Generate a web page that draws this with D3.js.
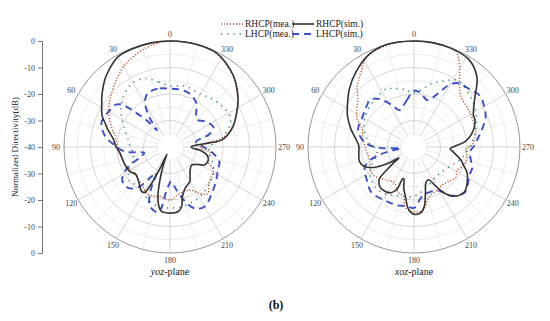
<!DOCTYPE html>
<html>
<head>
<meta charset="utf-8">
<script src="https://cdn.jsdelivr.net/npm/d3@7"></script>
<style>
  body { margin: 0; background: #fff; }
  svg { display: block; font-family: "Liberation Serif", "Times New Roman", serif; }
</style>
</head>
<body>
<div id="chart"></div>
<script>
// angle (deg, counter-clockwise from top) , normalized directivity (dB)
const yozRhcpSim = [[0,0],[10,-0.1],[20,-0.3],[30,-0.7],[38,-2.8],[44,-4.6],[53,-7.8],[57,-9.3],[65,-11.7],[70,-14],[74,-15.5],[82,-18.4],[89,-19.5],[97,-21],[112,-21.7],[122,-22.3],[128,-23.5],[136,-22.7],[143,-21.2],[148,-20],[151,-20.5],[153,-24],[155,-31],[157,-37],[159,-34],[162,-29],[165,-23],[168,-18.5],[172,-15.6],[178,-15.1],[187,-15.4],[191,-17],[194,-20.7],[200,-23.4],[210,-25],[219,-28],[230,-29.4],[238,-27.5],[243,-25.2],[251,-24.7],[258,-25.8],[264,-28.6],[267,-31.5],[271,-32],[274,-30],[276,-25],[278,-20],[288,-15],[297,-11.8],[304,-9],[311,-6.5],[318,-4.1],[326,-2],[334,-0.4],[345,0],[352,0]];
const yozRhcpMea = [[0,0],[7,-0.5],[15,-1.8],[22,-3.2],[29,-4.7],[35,-6.5],[41,-8.3],[52,-11.2],[61,-13.5],[71,-16.7],[79,-18.9],[86,-19.8],[95,-20.5],[103,-21.3],[114,-22],[125,-23],[135,-23],[145,-22],[153,-20.5],[160,-20.5],[169,-20.9],[180,-20],[192,-22.1],[205,-22.1],[212,-19.5],[219,-17.3],[224,-19],[230,-20.4],[242,-21.5],[248,-24.3],[255,-25],[262,-24.5],[268,-28.5],[273,-28],[277,-24.8],[280,-19.6],[287,-15.7],[296,-12],[305,-8.8],[318,-4.3],[334,-0.6],[345,-0.1],[352,0]];
const yozLhcpSim = [[0,-18],[12,-17.5],[22,-18],[27,-19.5],[31,-22],[35,-27],[38,-32],[41,-27],[45,-21.5],[48,-16.5],[52,-14],[60,-13.3],[70,-12.5],[80,-15],[88,-19],[96,-23],[103,-30],[109,-28],[116,-22],[125,-18],[135,-18],[142,-21],[148,-27],[152,-29],[156,-22],[161,-16.5],[170,-15],[176,-24],[182,-27],[188,-24],[195,-19],[202,-15],[210,-14],[220,-16],[234,-18.5],[245,-20],[253,-20.5],[262,-23.7],[272,-28],[281,-30],[288,-24.4],[294,-22],[306,-23.5],[315,-25.5],[322,-24],[328,-21],[334,-19.5],[341,-18.4],[350,-18]];
const yozLhcpMea = [[0,-17],[10,-15],[20,-12.5],[30,-12],[40,-13.5],[50,-16],[60,-19],[70,-22],[80,-24],[90,-25],[100,-26],[110,-25],[120,-22],[130,-20],[140,-21],[150,-20],[160,-18],[170,-17],[180,-17],[190,-17],[200,-17.5],[210,-18],[220,-19],[230,-20],[240,-21],[250,-23],[260,-25],[270,-25],[280,-20],[290,-16],[297,-14.5],[310,-15.2],[320,-16],[330,-17],[346,-16.3]];

const xozRhcpSim = [[0,0],[15,0],[27,-1.4],[38,-4.3],[48,-7.2],[56,-9.8],[65,-12.3],[74,-15.2],[82,-17.8],[89,-19.2],[97,-19],[105,-18.7],[111,-19.8],[117,-23],[122,-28],[126,-33],[128,-30],[130,-26.9],[133,-22],[138,-20.5],[143,-20],[153,-20.6],[158,-22.8],[160,-27],[162,-27.5],[166,-24],[170,-21.2],[175,-16.4],[180,-14.6],[186,-15.1],[190,-17.4],[194,-22.2],[199,-26],[204,-26.5],[209,-23.2],[213,-19.4],[219,-16.1],[228,-14.5],[236,-15.8],[244,-17.7],[249,-19.8],[255,-21.8],[262,-24.8],[267,-26.3],[272,-24],[276,-20.6],[283,-17.6],[294,-14.8],[298,-14.6],[308,-11],[318,-4.5],[328,-1],[340,-0.2],[350,0]];
const xozRhcpMea = [[0,0],[10,-0.1],[20,-0.6],[26,-1.1],[31,-3],[34,-4.8],[38,-6.6],[43,-8.6],[50,-12.3],[58,-14.5],[64,-16.2],[69,-18.8],[80,-20.5],[90,-21.5],[104,-22.5],[123,-21.2],[139,-23.6],[151,-24.6],[160,-22],[168,-20.9],[172,-16.9],[180,-15.5],[188,-16],[197,-20.4],[207,-21.5],[217,-22.1],[226,-21.5],[234,-20.5],[241,-21.5],[247,-20.5],[253,-19.6],[260,-19.6],[267,-20.5],[272,-18],[283,-16.1],[295,-15.6],[306,-15],[317,-14],[322,-12],[326,-9.3],[330,-5.5],[334,-2],[337,-0.5],[345,-0.2],[352,0]];
const xozLhcpSim = [[0,-18.7],[8,-21.9],[15,-24],[22,-25],[28,-22],[36,-17.6],[43,-15.7],[50,-16.5],[60,-17.5],[72,-17.8],[78,-19],[86,-22],[92,-28],[96,-35],[99,-32],[104,-25],[112,-20],[127,-18],[137,-16.5],[153,-17.1],[164,-17.1],[172,-17.5],[180,-17],[189,-21],[200,-22],[210,-21],[217,-17],[228,-14.3],[235,-15.3],[244,-16.6],[250,-16.6],[256,-17.8],[265,-18.8],[272,-17],[278,-15.6],[283,-14],[292,-10.9],[300,-9.4],[308,-8.5],[316,-9.7],[326,-10.9],[331,-13.5],[336,-18],[344,-21.6],[353,-19.5]];
const xozLhcpMea = [[0,-19.5],[10,-18],[20,-16.5],[26,-15.7],[35,-16.5],[43,-17],[55,-18],[64,-19],[75,-21],[85,-23],[95,-26],[105,-25],[115,-22],[125,-20],[135,-19],[145,-19],[155,-20],[165,-21],[175,-21],[185,-22],[195,-24],[205,-25],[215,-26],[225,-26],[235,-25.5],[245,-24],[255,-22],[265,-20],[275,-18],[285,-16],[295,-14],[305,-12.5],[315,-11],[327,-10],[335,-12.5],[344,-15],[352,-18]];

const angleTicks = d3.range(0, 360, 30);
const radialTicks = [0, -10, -20, -30, -40];
const seriesNames = ["RHCP(mea.)", "RHCP(sim.)", "LHCP(mea.)", "LHCP(sim.)"];
const planeNames = ["yoz", "xoz"];

const width = 550, height = 321;
const cy = 147, R = 106;

// line styles per series, same order as seriesNames
const styles = [
  { color: "#b5532e", width: 1.4, dash: "1.2,1.8" },
  { color: "#333333", width: 1.6, dash: null },
  { color: "#2c8c7c", width: 1.6, dash: "1.2,5" },
  { color: "#3b4fc8", width: 1.9, dash: "7,5" }
];

const svg = d3.select("#chart")
  .append("svg")
  .attr("width", width)
  .attr("height", height);

svg.append("rect").attr("width", width).attr("height", height).attr("fill", "#fff");

const rScale = d3.scaleLinear().domain([-40, 0]).range([0, R]);

const radialLine = d3.lineRadial()
  .angle(d => -d[0] * Math.PI / 180)
  .radius(d => rScale(d[1]))
  .curve(d3.curveCatmullRomClosed.alpha(0.5));

// draw one polar panel centred at cx
function polarPanel(cx, plane, data) {
  const g = svg.append("g").attr("transform", "translate(" + cx + "," + cy + ")");

  // circles every 5 dB
  g.selectAll("circle.grid")
    .data(d3.range(-35, 1, 5))
    .enter().append("circle")
      .attr("class", "grid")
      .attr("r", d => rScale(d))
      .attr("fill", "none")
      .attr("stroke", d => d === 0 ? "#8a8a8a" : (d % 10 === 0 ? "#c4c4c4" : "#e4e4e4"))
      .attr("stroke-width", d => d === 0 ? 0.9 : 0.7);

  // spokes
  g.selectAll("line.spoke")
    .data(d3.range(0, 360, 15))
    .enter().append("line")
      .attr("class", "spoke")
      .attr("x1", d => -rScale(-35) * Math.sin(d * Math.PI / 180))
      .attr("y1", d => -rScale(-35) * Math.cos(d * Math.PI / 180))
      .attr("x2", d => -R * Math.sin(d * Math.PI / 180))
      .attr("y2", d => -R * Math.cos(d * Math.PI / 180))
      .attr("stroke", d => d % 30 === 0 ? "#c4c4c4" : "#e6e6e6")
      .attr("stroke-width", 0.7);

  // angle labels
  g.selectAll("text.angle")
    .data(angleTicks)
    .enter().append("text")
      .attr("class", "angle")
      .attr("x", d => -114 * Math.sin(d * Math.PI / 180))
      .attr("y", d => -113 * Math.cos(d * Math.PI / 180))
      .attr("dy", "0.35em")
      .attr("text-anchor", "middle")
      .style("font-size", "8px")
      .attr("fill", "#444")
      .text(d => d);

  // curves: LHCP mea, LHCP sim, RHCP mea, RHCP sim
  [2, 3, 0, 1].forEach(i => {
    g.append("path")
      .datum(data[i])
      .attr("d", radialLine)
      .attr("fill", "none")
      .attr("stroke", styles[i].color)
      .attr("stroke-width", styles[i].width)
      .attr("stroke-dasharray", styles[i].dash);
  });

  // plane title
  const t = svg.append("text")
    .attr("x", cx)
    .attr("y", 275)
    .attr("text-anchor", "middle")
    .style("font-size", "10px")
    .attr("fill", "#222");
  t.append("tspan").style("font-style", "italic").text(plane);
  t.append("tspan").text("-plane");
}

polarPanel(170, planeNames[0], [yozRhcpMea, yozRhcpSim, yozLhcpMea, yozLhcpSim]);
polarPanel(414, planeNames[1], [xozRhcpMea, xozRhcpSim, xozLhcpMea, xozLhcpSim]);

// radial value axis on the left (mirrored)
const yTop = d3.scaleLinear().domain([-40, 0]).range([cy, cy - R]);
const yBot = d3.scaleLinear().domain([-40, 0]).range([cy, cy + R]);

[yTop, yBot].forEach((s, k) => {
  const ax = svg.append("g")
    .attr("transform", "translate(42,0)")
    .call(d3.axisLeft(s)
      .tickValues(k === 0 ? radialTicks : radialTicks.slice(0, 4))
      .tickSize(4)
      .tickFormat(d => String(d)));
  ax.select(".domain").attr("stroke", "#777");
  ax.selectAll(".tick line").attr("stroke", "#777");
  ax.selectAll(".tick text")
    .attr("fill", "#444")
    .style("font-size", "8px")
    .style("font-family", "Liberation Serif, serif");
});

svg.append("text")
  .attr("transform", "translate(18," + cy + ") rotate(-90)")
  .attr("text-anchor", "middle")
  .style("font-size", "9px")
  .attr("fill", "#222")
  .text("Normalized Directivity(dB)");

// legend, 2 x 2
const legendPos = [[221, 24], [292, 24], [221, 34], [292, 34]];
seriesNames.forEach((name, i) => {
  const p = legendPos[i];
  svg.append("line")
    .attr("x1", p[0]).attr("x2", p[0] + 22)
    .attr("y1", p[1]).attr("y2", p[1])
    .attr("stroke", styles[i].color)
    .attr("stroke-width", styles[i].width)
    .attr("stroke-dasharray", styles[i].dash);
  svg.append("text")
    .attr("x", p[0] + 24)
    .attr("y", p[1])
    .attr("dy", "0.35em")
    .style("font-size", "9.5px")
    .attr("fill", "#222")
    .text(name);
});

svg.append("text")
  .attr("x", 276)
  .attr("y", 309)
  .attr("text-anchor", "middle")
  .style("font-size", "12px")
  .style("font-weight", "bold")
  .attr("fill", "#111")
  .text("(b)");
</script>
</body>
</html>
